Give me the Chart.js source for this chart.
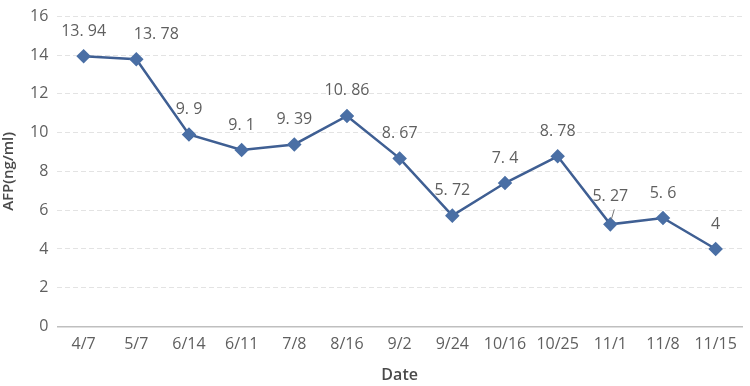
<!DOCTYPE html>
<html>
<head>
<meta charset="utf-8">
<script src="https://cdn.jsdelivr.net/npm/chart.js@4"></script>
<style>
  html, body { margin: 0; padding: 0; background: #fff; }
  #wrap { width: 750px; height: 386px; position: relative; }
</style>
</head>
<body>
<div id="wrap"><canvas id="afpChart"></canvas></div>
<script>
// chart data
const dates = ["4/7", "5/7", "6/14", "6/11", "7/8", "8/16", "9/2", "9/24", "10/16", "10/25", "11/1", "11/8", "11/15"];
const afpValues = [13.94, 13.78, 9.9, 9.1, 9.39, 10.86, 8.67, 5.72, 7.4, 8.78, 5.27, 5.6, 4];
const yTicks = [0, 2, 4, 6, 8, 10, 12, 14, 16];

const lineColor = "#3f5f93";
const textColor = "#5f5f5f";
const titleColor = "#4a4a4a";

// draws the value labels above each point
const valueLabels = {
    id: "valueLabels",
    afterDatasetsDraw(chart) {
        const ctx = chart.ctx;
        const meta = chart.getDatasetMeta(0);
        ctx.save();
        ctx.font = "16px 'Open Sans', sans-serif";
        ctx.fillStyle = textColor;
        ctx.textAlign = "center";
        ctx.textBaseline = "bottom";
        meta.data.forEach((pt, i) => {
            let dx = 0, dy = -17;
            if (i === 1) dx = 20;
            if (i === 10) {
                dy = -20;
                // small leader line
                ctx.strokeStyle = "#777";
                ctx.lineWidth = 1;
                ctx.beginPath();
                ctx.moveTo(pt.x + 1, pt.y - 5);
                ctx.lineTo(pt.x + 4, pt.y - 15);
                ctx.stroke();
            }
            ctx.fillText(String(afpValues[i]).replace(".", ". "), pt.x + dx, pt.y + dy);
        });
        ctx.restore();
    }
};

new Chart(document.getElementById("afpChart"), {
    type: "line",
    data: {
        labels: dates,
        datasets: [{
            label: "AFP",
            data: afpValues,
            borderColor: lineColor,
            backgroundColor: lineColor,
            borderWidth: 2.5,
            pointStyle: "rectRot",
            pointRadius: 5.5,
            pointBackgroundColor: "#4a6fa5",
            pointBorderColor: "#4a6fa5",
            tension: 0
        }]
    },
    options: {
        responsive: true,
        maintainAspectRatio: false,
        animation: false,
        layout: { padding: { top: 0, right: 8, left: 0, bottom: 1 } },
        plugins: {
            legend: { display: false },
            tooltip: { enabled: false }
        },
        scales: {
            x: {
                offset: true,
                grid: { display: false, drawTicks: false },
                border: { display: true, color: "#bfbfbf", width: 1.5 },
                ticks: {
                    color: textColor,
                    font: { family: "'Open Sans', sans-serif", size: 16 },
                    padding: 8,
                    maxRotation: 0,
                    autoSkip: false
                },
                title: {
                    display: true,
                    text: "Date",
                    color: titleColor,
                    font: { family: "'Open Sans', sans-serif", size: 16, weight: "600" },
                    padding: { top: 4, bottom: 0 }
                }
            },
            y: {
                min: 0,
                max: 16,
                afterBuildTicks: scale => {
                    scale.ticks = yTicks.map(v => ({ value: v }));
                },
                grid: {
                    color: ctx => ctx.tick.value === 0 ? "rgba(0,0,0,0)" : "#e3e3e3",
                    lineWidth: 1,
                    drawTicks: false
                },
                border: { display: false, dash: [5, 3] },
                ticks: {
                    color: textColor,
                    font: { family: "'Open Sans', sans-serif", size: 16, lineHeight: 0.9 },
                    padding: 9
                },
                title: {
                    display: true,
                    text: "AFP(ng/ml)",
                    color: titleColor,
                    font: { family: "'Open Sans', sans-serif", size: 15, weight: "600" },
                    padding: { top: 0, bottom: 3 }
                }
            }
        }
    },
    plugins: [valueLabels]
});
</script>
</body>
</html>
